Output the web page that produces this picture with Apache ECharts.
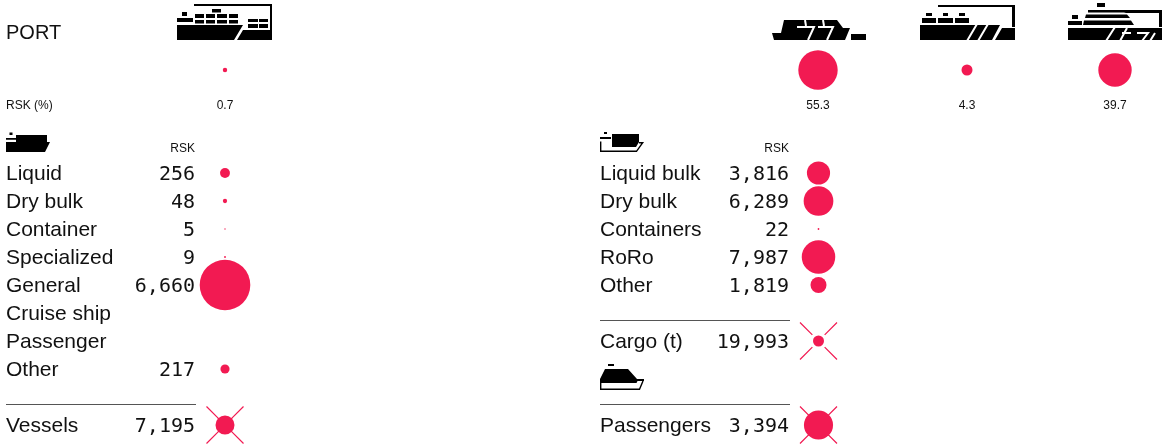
<!DOCTYPE html>
<html><head><meta charset="utf-8">
<style>html,body{margin:0;padding:0;background:#fff}#c{width:1171px;height:446px}</style>
<script src="https://cdn.jsdelivr.net/npm/echarts@6/dist/echarts.min.js"></script>
</head><body><div id="c"></div>
<script>
// DATA
const portShares = [0.7, 55.3, 4.3, 39.7];
const portLabels = ['0.7', '55.3', '4.3', '39.7'];
const vesselNames = ['Liquid','Dry bulk','Container','Specialized','General','Cruise ship','Passenger','Other','','Vessels'];
const vesselValues = [256,48,5,9,6660,null,null,217,null,7195];
const cargoNames = ['Liquid bulk','Dry bulk','Containers','RoRo','Other','','Cargo (t)','','','Passengers'];
const cargoValues = [3816,6289,22,7987,1819,null,19993,null,null,3394];

// LAYOUT
const INK='#111', PINK='#f21a52';
const NAME='"Liberation Sans",Arial,sans-serif', NUM='"DejaVu Sans Mono",monospace';
const portX=[225,818,967,1115];
const rows=vesselNames.map((_,i)=>String(i));
const fmt=v=>v==null?'':v.toLocaleString('en-US');
const X_PATH='path://M0 0L33.4 33.4M66.6 66.6L100 100M100 0L66.6 33.4M33.4 66.6L0 100';

function axes(i){return {
  x:{type:'value',gridIndex:i,min:0,max:1171,show:false},
  y:{type:'category',gridIndex:i,inverse:true,show:false,data:i===0?['icon','dot','pct']:rows}
};}
const grids=[
  {left:0,width:1171,top:17.5,height:105},
  {left:0,width:1171,top:159,height:280}
];
const a0=axes(0),a1=axes(1);

function textSeries(data,align,font,size,gi,dy){
  return {type:'scatter',xAxisIndex:gi,yAxisIndex:gi,symbolSize:0,silent:true,z:5,data,
    itemStyle:{opacity:1},
    label:{show:true,position:'inside',align,verticalAlign:'middle',color:INK,fontFamily:font,fontSize:size,
      offset:[0,dy],formatter:p=>p.data[2]}};
}
function table(names,values,xName,xNum,xDot,k,totals){
  const s=[];
  const totalIdx=totals.map(t=>t.i);
  s.push(textSeries(names.map((n,i)=>[xName,String(i),n]),'left',NAME,21,1,1));
  s.push(textSeries(values.map((v,i)=>[xNum,String(i),fmt(v)]),'right',NUM,20,1,2));
  const bubbles=values.map((v,i)=>v==null||totalIdx.includes(i)?null:[xDot,String(i),v]).filter(Boolean);
  s.push({type:'scatter',xAxisIndex:1,yAxisIndex:1,silent:true,z:3,data:bubbles,
    symbolSize:d=>Math.sqrt(d[2])*k,itemStyle:{color:PINK,opacity:1}});
  s.push({type:'scatter',xAxisIndex:1,yAxisIndex:1,silent:true,z:2,
    data:totals.map(t=>[xDot,String(t.i),values[t.i]]),symbol:X_PATH,symbolSize:37,
    itemStyle:{color:'none',borderColor:PINK,borderWidth:1.2,opacity:1}});
  totals.forEach(t=>s.push({type:'scatter',xAxisIndex:1,yAxisIndex:1,silent:true,z:3,
    data:[[xDot,String(t.i),values[t.i]]],
    symbolSize:d=>Math.sqrt(d[2])*t.k,itemStyle:{color:PINK,opacity:1}}));
  return s;
}
const series=[
  {type:'scatter',xAxisIndex:0,yAxisIndex:0,silent:true,data:portShares.map((v,i)=>[portX[i],'dot',v]),
    symbolSize:d=>Math.sqrt(d[2])*5.3,itemStyle:{color:PINK,opacity:1}},
  textSeries(portLabels.map((t,i)=>[portX[i],'pct',t]),'center',NAME,12,0,1),
  textSeries([[6,'pct','RSK (%)']],'left',NAME,12,0,1),
  textSeries([[6,'icon','PORT']],'left',NAME,20,0,-2),
  ...table(vesselNames,vesselValues,6,195,225,0.62,[{i:9,k:0.224}]),
  ...table(cargoNames,cargoValues,600,789,818.5,0.375,[{i:6,k:0.078},{i:9,k:0.5}])
];

// ICONS (decorative pictograms)
let iconId=0;
function P(d,fill,stroke,lw){
  const name='shipIcon'+(iconId++);
  echarts.graphic.registerShape(name,echarts.graphic.extendPath(d,{}));
  return {type:name,silent:true,z:10,style:{fill:fill||'#000',stroke:stroke||null,lineWidth:lw||0}};
}
const white=(d,lw)=>P(d,'none','#fff',lw||2);
const R=(x,y,w,h)=>`M${x} ${y}L${x+w} ${y}L${x+w} ${y+h}L${x} ${y+h}Z`;
const icons=[
  // container ship
  P('M194 4L272 4L272 30L270 30L270 6L194 6Z'+'M177 25L243 25L234 40L177 40Z'+'M237 40L243 30L272 30L272 40Z'
    +[195,206,217,229].map(x=>R(x,14,x===217?10:9,4)+R(x,20,x===217?10:9,3.5)).join('')
    +R(212,9,9,3.5)+R(182,12,5,4)+R(177,18,16,4)
    +R(248,19,10,3)+R(259,19,9,3)+R(248,24,10,4)+R(259,24,9,4)),
  // ro-ro
  P('M772 33L781 33L784 20L837 20L843 28L850 28L845 40L774 40Z'+R(851,34,15,6)),
  white('M797 27L814 27L808 40M818 27L833 27L827 40M805 20L806 26M823 20L824 26',2),
  // bulk
  P('M938 5L1015 5L1015 27L1012 27L1012 7L938 7Z'+'M920 25L1000 25L992 40L920 40Z'+'M1002 28L1015 28L1015 40L995 40Z'
    +R(922,18,14,5)+R(938,18,15,5)+R(955,18,14,5)+R(926,13,6,3)+R(943,13,5,3)+R(959,13,6,3)),
  white('M977 24L967 41M988 24L978 41',2),
  // cruise
  P('M1088 10L1162 10L1162 27L1159 27L1159 13L1126 13L1124 12.5L1088 12.5Z'+R(1097,3,8,4)+'M1086 14.5L1127 14.5L1130 18L1085 18Z'+'M1084 20.5L1131 20.5L1134 25L1083 25Z'
    +R(1072,15,6,4)+R(1068,21,14,4)+R(1068,28,94,12)),
  white('M1115 27L1106 41M1122 33L1131 33M1127 28L1120 41M1137 33L1148 33L1142 41M1155 33L1150 41',2),
  // general vessel
  P(R(9.5,132.5,3,2.5)+R(6,138,10,1.8)+'M16 135L47 135L47 142L50 142L45 152L6 152L6 142L16 142Z'),
  // cargo vessel
  P(R(604,132,3,2)+R(600,137,11,2)+'M612 134L639 134L639 142L636 147L612 147Z'),
  P('M600.7 141.5L600.7 151.3L636.5 151.3L642.7 142.7L639 142.7','none','#000',1.4),
  // passenger vessel
  P(R(608,364,6,2)+'M600 379L605 369L628 369L637 379L644 379L644 381L637.5 381L636.5 383L600 383Z'),
  P('M600.7 382L600.7 389.3L639.5 389.3L643 381','none','#000',1.4)
];
const rules=[[6,196,404],[600,790,320],[600,790,404]].map(r=>({type:'line',silent:true,
  shape:{x1:r[0],y1:r[2]+.5,x2:r[1],y2:r[2]+.5},style:{stroke:'#555',lineWidth:1}}));
const heads=[195,789].map(x=>({type:'text',silent:true,x,y:149,
  style:{text:'RSK',align:'right',verticalAlign:'middle',fill:INK,font:'12px '+NAME}}));

const chart=echarts.init(document.getElementById('c'),null,{renderer:'canvas'});
chart.setOption({animation:false,backgroundColor:'#fff',
  grid:grids,xAxis:[a0.x,a1.x],yAxis:[a0.y,a1.y],series,
  graphic:[...icons,...rules,...heads]});
</script></body></html>
